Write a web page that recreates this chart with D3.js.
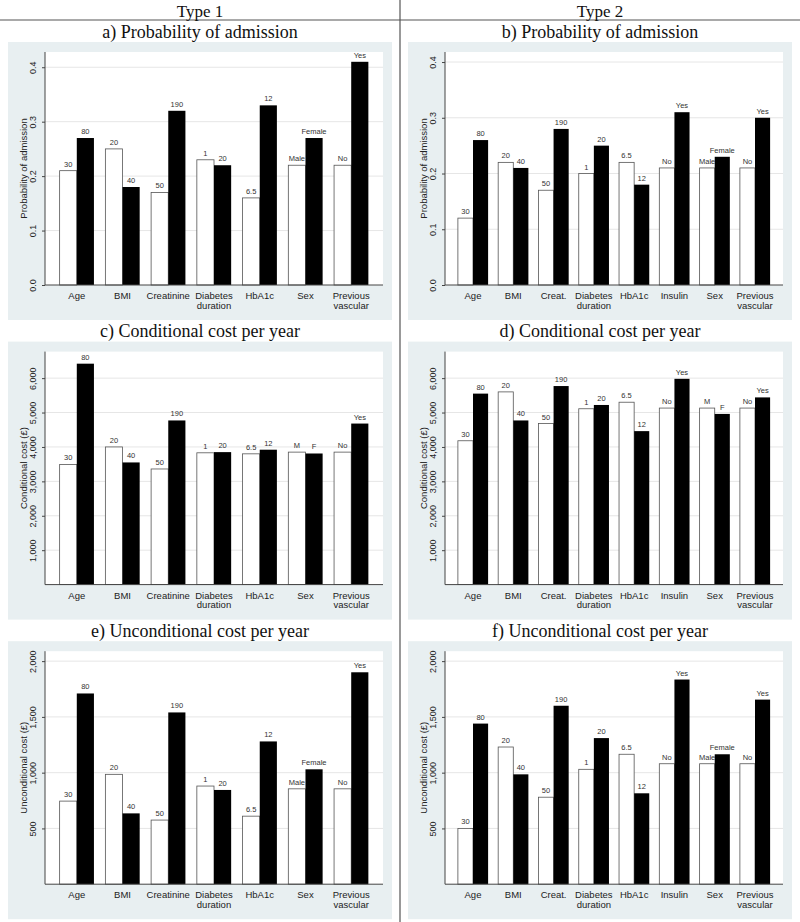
<!DOCTYPE html>
<html>
<head>
<meta charset="utf-8">
<script src="https://cdn.jsdelivr.net/npm/d3@7/dist/d3.min.js"></script>
<style>
  html, body { margin: 0; padding: 0; background: #fff; }
  svg { display: block; }
</style>
</head>
<body>
<svg id="chart" width="800" height="922"></svg>
<script>
// ---------------- DATA ----------------
const type1Categories = [["Age"], ["BMI"], ["Creatinine"], ["Diabetes", "duration"], ["HbA1c"], ["Sex"], ["Previous", "vascular"]];
const type2Categories = [["Age"], ["BMI"], ["Creat."], ["Diabetes", "duration"], ["HbA1c"], ["Insulin"], ["Sex"], ["Previous", "vascular"]];

const type1LowLabels = ["30", "20", "50", "1", "6.5", "Male", "No"];
const type1HighLabels = ["80", "40", "190", "20", "12", "Female", "Yes"];
const type1LowLabelsShort = ["30", "20", "50", "1", "6.5", "M", "No"];
const type1HighLabelsShort = ["80", "40", "190", "20", "12", "F", "Yes"];

const type2LowLabels = ["30", "20", "50", "1", "6.5", "No", "Male", "No"];
const type2HighLabels = ["80", "40", "190", "20", "12", "Yes", "Female", "Yes"];
const type2LowLabelsShort = ["30", "20", "50", "1", "6.5", "No", "M", "No"];
const type2HighLabelsShort = ["80", "40", "190", "20", "12", "Yes", "F", "Yes"];

// a) Type 1 probability of admission
const probT1Low  = [0.21, 0.25, 0.17, 0.23, 0.16, 0.22, 0.22];
const probT1High = [0.27, 0.18, 0.32, 0.22, 0.33, 0.27, 0.41];
// b) Type 2 probability of admission
const probT2Low  = [0.12, 0.22, 0.17, 0.20, 0.22, 0.21, 0.21, 0.21];
const probT2High = [0.26, 0.21, 0.28, 0.25, 0.18, 0.31, 0.23, 0.30];
// c) Type 1 conditional cost
const condT1Low  = [3490, 4000, 3360, 3830, 3800, 3850, 3850];
const condT1High = [6420, 3550, 4770, 3850, 3920, 3810, 4680];
// d) Type 2 conditional cost
const condT2Low  = [4180, 5600, 4680, 5110, 5300, 5130, 5130, 5130];
const condT2High = [5550, 4770, 5770, 5220, 4460, 5980, 4960, 5440];
// e) Type 1 unconditional cost
const uncondT1Low  = [745, 985, 575, 880, 610, 855, 855];
const uncondT1High = [1710, 635, 1540, 845, 1280, 1030, 1900];
// f) Type 2 unconditional cost
const uncondT2Low  = [500, 1230, 780, 1030, 1165, 1080, 1080, 1080];
const uncondT2High = [1440, 985, 1600, 1310, 815, 1835, 1165, 1655];

const probTicks = [0, 0.1, 0.2, 0.3, 0.4];
const condTicks = [1000, 2000, 3000, 4000, 5000, 6000];
const uncondTicks = [500, 1000, 1500, 2000];

const columnHeaders = ["Type 1", "Type 2"];

// ---------------- LAYOUT ----------------
const svg = d3.select("#chart");
const W = 800, H = 922;
const rowStep = 299.6;
const bgColor = "#e8eff1";
const sans = "'Liberation Sans', Arial, sans-serif";
const serif = "'Liberation Serif', 'Times New Roman', serif";

// table lines
svg.append("line").attr("x1", 400).attr("x2", 400).attr("y1", 0).attr("y2", H)
  .attr("stroke", "#555").attr("stroke-width", 1.2);
svg.append("line").attr("x1", 0).attr("x2", W).attr("y1", 20).attr("y2", 20)
  .attr("stroke", "#555").attr("stroke-width", 1.2);

columnHeaders.forEach((h, i) => {
  svg.append("text").attr("x", 200 + i * 400).attr("y", 16.5)
    .attr("text-anchor", "middle").attr("font-family", serif).attr("font-size", 17)
    .attr("fill", "#111").text(h);
});

const panels = [
  { col: 0, row: 0, title: "a) Probability of admission", cats: type1Categories, low: probT1Low, high: probT1High,
    lowL: type1LowLabels, highL: type1HighLabels, yMax: 0.428, ticks: probTicks, fmt: d3.format(".1f"), yTitle: "Probability of admission" },
  { col: 1, row: 0, title: "b) Probability of admission", cats: type2Categories, low: probT2Low, high: probT2High,
    lowL: type2LowLabels, highL: type2HighLabels, yMax: 0.418, ticks: probTicks, fmt: d3.format(".1f"), yTitle: "Probability of admission" },
  { col: 0, row: 1, title: "c) Conditional cost per year", cats: type1Categories, low: condT1Low, high: condT1High,
    lowL: type1LowLabelsShort, highL: type1HighLabelsShort, yMax: 6771, ticks: condTicks, fmt: d3.format(","), yTitle: "Conditional cost (£)" },
  { col: 1, row: 1, title: "d) Conditional cost per year", cats: type2Categories, low: condT2Low, high: condT2High,
    lowL: type2LowLabelsShort, highL: type2HighLabelsShort, yMax: 6771, ticks: condTicks, fmt: d3.format(","), yTitle: "Conditional cost (£)" },
  { col: 0, row: 2, title: "e) Unconditional cost per year", cats: type1Categories, low: uncondT1Low, high: uncondT1High,
    lowL: type1LowLabels, highL: type1HighLabels, yMax: 2089, ticks: uncondTicks, fmt: d3.format(","), yTitle: "Unconditional cost (£)" },
  { col: 1, row: 2, title: "f) Unconditional cost per year", cats: type2Categories, low: uncondT2Low, high: uncondT2High,
    lowL: type2LowLabels, highL: type2HighLabels, yMax: 2089, ticks: uncondTicks, fmt: d3.format(","), yTitle: "Unconditional cost (£)" }
];

panels.forEach(p => {
  const ox = p.col * 400;
  const oy = p.row * rowStep;
  const g = svg.append("g").attr("transform", `translate(${ox},${oy})`);

  // title
  g.append("text").attr("x", 200).attr("y", 37.5).attr("text-anchor", "middle")
    .attr("font-family", serif).attr("font-size", 18).attr("fill", "#111").text(p.title);

  // background graph region
  g.append("rect").attr("x", 8).attr("y", 42).attr("width", 384).attr("height", 278).attr("fill", bgColor);

  const px0 = 45, px1 = 383, py0 = 52, py1 = 285;
  g.append("rect").attr("x", px0).attr("y", py0).attr("width", px1 - px0).attr("height", py1 - py0).attr("fill", "#fff");

  const y = d3.scaleLinear().domain([0, p.yMax]).range([py1, py0]);
  const x = d3.scaleBand().domain(d3.range(p.cats.length)).range([px0, px1]).paddingInner(0.25).paddingOuter(0.32);
  const half = x.bandwidth() / 2;

  // gridlines
  g.append("g").selectAll("line").data(p.ticks.filter(t => t > 0)).join("line")
    .attr("x1", px0).attr("x2", px1).attr("y1", d => y(d)).attr("y2", d => y(d))
    .attr("stroke", "#e6e6e6").attr("stroke-width", 1);

  // y axis
  const yAxis = d3.axisLeft(y).tickValues(p.ticks).tickFormat(p.fmt).tickSize(3).tickPadding(6);
  const ya = g.append("g").attr("transform", `translate(${px0},0)`).call(yAxis);
  ya.select(".domain").attr("stroke", "#444").attr("d", `M0,${py0}V${py1}`);
  ya.selectAll(".tick line").attr("stroke", "#444");
  ya.selectAll(".tick text")
    .attr("font-family", sans).attr("font-size", 9).attr("fill", "#222")
    .attr("x", null).attr("dy", null)
    .attr("text-anchor", "middle")
    .attr("transform", "translate(-9,0) rotate(-90)")
    .attr("y", 0);

  // y title
  g.append("text").attr("transform", `translate(${px0 - 18.5},${(py0 + py1) / 2}) rotate(-90)`)
    .attr("text-anchor", "middle").attr("font-family", sans).attr("font-size", 9.5).attr("fill", "#222")
    .text(p.yTitle);

  // bars
  const idx = d3.range(p.cats.length);
  g.append("g").selectAll("rect").data(idx).join("rect")
    .attr("x", i => x(i)).attr("width", half)
    .attr("y", i => y(p.low[i])).attr("height", i => y(0) - y(p.low[i]))
    .attr("fill", "#fff").attr("stroke", "#555").attr("stroke-width", 0.8);
  g.append("g").selectAll("rect").data(idx).join("rect")
    .attr("x", i => x(i) + half).attr("width", half)
    .attr("y", i => y(p.high[i])).attr("height", i => y(0) - y(p.high[i]))
    .attr("fill", "#000");

  // bar labels
  g.append("g").selectAll("text").data(idx).join("text")
    .attr("x", i => x(i) + half / 2).attr("y", i => y(p.low[i]) - 4)
    .attr("text-anchor", "middle").attr("font-family", sans).attr("font-size", 7.5).attr("fill", "#333")
    .text(i => p.lowL[i]);
  g.append("g").selectAll("text").data(idx).join("text")
    .attr("x", i => x(i) + half * 1.5).attr("y", i => y(p.high[i]) - 4)
    .attr("text-anchor", "middle").attr("font-family", sans).attr("font-size", 7.5).attr("fill", "#333")
    .text(i => p.highL[i]);

  // x axis line
  g.append("line").attr("x1", px0).attr("x2", px1).attr("y1", py1).attr("y2", py1)
    .attr("stroke", "#444").attr("stroke-width", 1);

  // category labels
  const cl = g.append("g").selectAll("text").data(idx).join("text")
    .attr("x", i => x(i) + x.bandwidth() / 2).attr("y", py1 + 14.3)
    .attr("text-anchor", "middle").attr("font-family", sans).attr("font-size", 9.5).attr("fill", "#222");
  cl.each(function(i) {
    const t = d3.select(this);
    p.cats[i].forEach((line, k) => {
      t.append("tspan").attr("x", x(i) + x.bandwidth() / 2).attr("dy", k === 0 ? 0 : 9.5).text(line);
    });
  });
});
</script>
</body>
</html>
